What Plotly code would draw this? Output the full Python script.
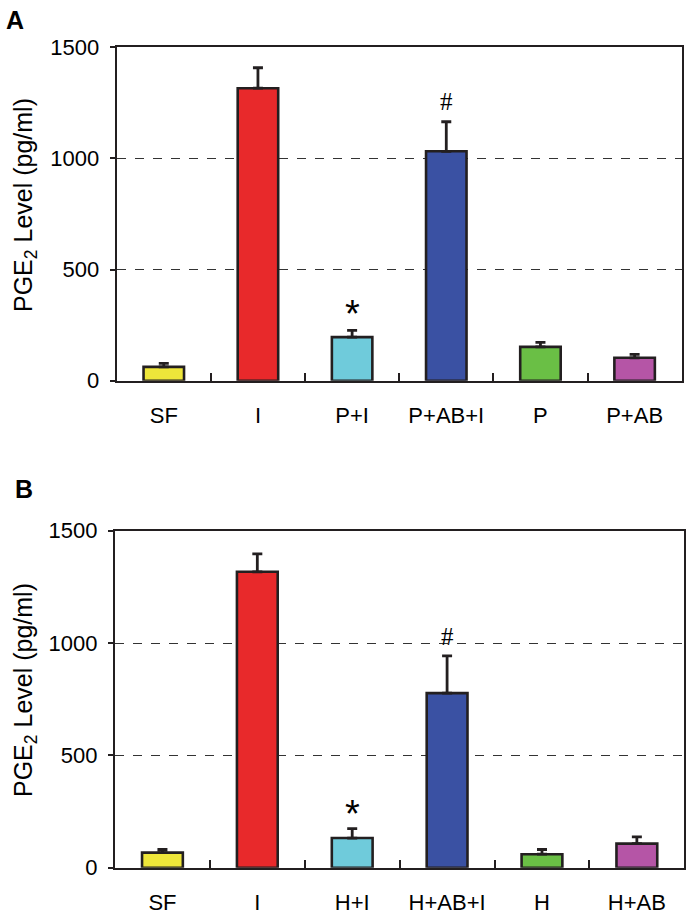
import plotly.graph_objects as go

# ---- data ----
categories_A = ["SF", "I", "P+I", "P+AB+I", "P", "P+AB"]
values_A = [62, 1316, 196, 1032, 152, 103]
errors_A = [16, 92, 30, 133, 20, 15]

categories_B = ["SF", "I", "H+I", "H+AB+I", "H", "H+AB"]
values_B = [67, 1317, 132, 777, 60, 107]
errors_B = [14, 80, 42, 166, 21, 30]

bar_colors = ["#EEE63A", "#E8292B", "#6FCBDB", "#3A51A3", "#6ABF45", "#B555A6"]

marks_A = {"P+I": ("*", 300), "P+AB+I": ("#", 1254)}
marks_B = {"H+I": ("*", 238), "H+AB+I": ("#", 1028)}

y_ticks = [0, 500, 1000, 1500]

FONT = "Liberation Sans, Arial, sans-serif"
DARK = "#231F20"
W, H = 692, 919

fig = go.Figure()


def add_panel(cats, vals, errs, xaxis, yaxis):
    fig.add_trace(go.Bar(
        x=cats, y=vals, xaxis=xaxis, yaxis=yaxis, width=0.43,
        marker=dict(color=bar_colors, line=dict(color=DARK, width=2.6)),
        error_y=dict(type="data", array=errs, arrayminus=[0] * len(errs),
                     symmetric=False, color=DARK, thickness=2.8, width=5),
        showlegend=False, hoverinfo="skip",
    ))


add_panel(categories_A, values_A, errors_A, "x", "y")
add_panel(categories_B, values_B, errors_B, "x2", "y2")


def xd(l, r):
    return [l / W, r / W]


def yd(t, b):
    return [1 - b / H, 1 - t / H]


xaxis_common = dict(
    type="category", showline=True, linecolor=DARK, linewidth=2.2, mirror=True,
    ticks="inside", tickson="boundaries", ticklen=8, tickwidth=2, tickcolor=DARK,
    tickfont=dict(family=FONT, size=22, color="black"), ticklabelstandoff=14,
    showgrid=False, zeroline=False, fixedrange=True, automargin=False,
)
yaxis_common = dict(
    range=[0, 1500], tickvals=y_ticks, ticktext=[str(v) for v in y_ticks],
    showline=True, linecolor=DARK, linewidth=2.2, mirror=True,
    ticks="outside", ticklen=5, tickwidth=2, tickcolor=DARK,
    tickfont=dict(family=FONT, size=22, color="black"), ticklabelstandoff=6,
    showgrid=True, gridcolor="#333333", gridwidth=1, griddash="dash",
    zeroline=False, fixedrange=True, automargin=False,
)

fig.update_layout(
    template="none",
    width=W, height=H, margin=dict(l=0, r=0, t=0, b=0, autoexpand=False),
    paper_bgcolor="white", plot_bgcolor="white",
    xaxis=dict(domain=xd(116.7, 681.7), anchor="y", **xaxis_common),
    yaxis=dict(domain=yd(47.3, 380.7), anchor="x", **yaxis_common),
    xaxis2=dict(domain=xd(115, 684.3), anchor="y2", **xaxis_common),
    yaxis2=dict(domain=yd(530.7, 867.7), anchor="x2", **yaxis_common),
)

annotations = []
for marks, xr, yr in ((marks_A, "x", "y"), (marks_B, "x2", "y2")):
    for cat, (sym, yv) in marks.items():
        if sym == "*":
            f = dict(family=FONT, size=38, color="black")
        else:
            f = dict(family="Liberation Serif, Times New Roman, serif", size=25, color="black")
        annotations.append(dict(x=cat, y=yv, xref=xr, yref=yr, text=sym,
                                showarrow=False, font=f, yanchor="middle"))

# y-axis titles
title_text = "PGE<sub>2</sub> Level (pg/ml)"
for yc in (205, 690):
    annotations.append(dict(x=25 / W, y=1 - yc / H, xref="paper", yref="paper",
                            text=title_text, textangle=-90, showarrow=False,
                            font=dict(family=FONT, size=25, color="black"),
                            xanchor="center", yanchor="middle"))

# panel letters
annotations.append(dict(x=4 / W, y=1 - 4 / H, xref="paper", yref="paper", text="<b>A</b>",
                        showarrow=False, xanchor="left", yanchor="top",
                        font=dict(family=FONT, size=25, color="black")))
annotations.append(dict(x=13 / W, y=1 - 473 / H, xref="paper", yref="paper", text="<b>B</b>",
                        showarrow=False, xanchor="left", yanchor="top",
                        font=dict(family=FONT, size=25, color="black")))

fig.update_layout(annotations=annotations)

fig.write_html("out.html", config={"displayModeBar": False},
               post_script="document.body.style.margin='0';document.body.style.overflow='hidden';")
